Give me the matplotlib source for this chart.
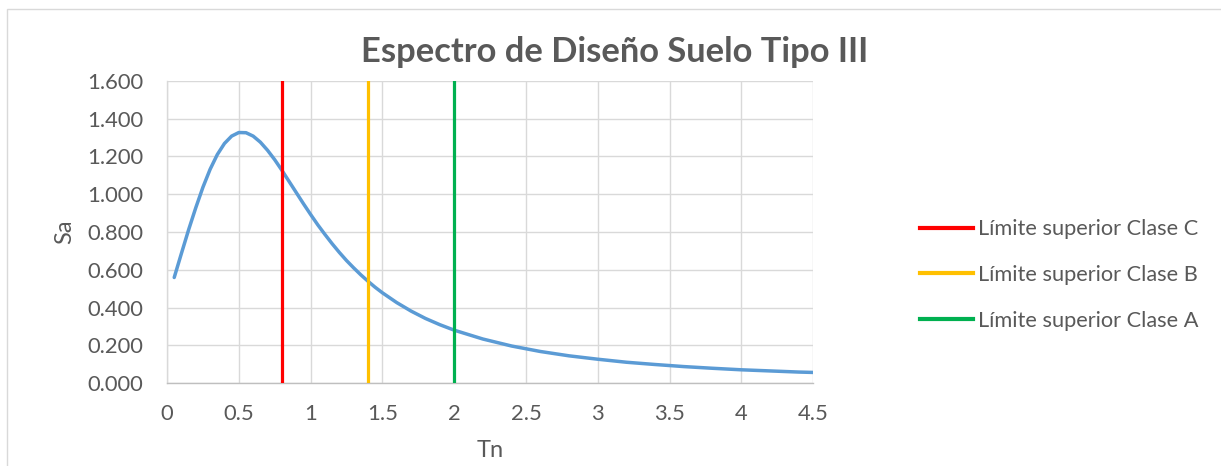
import matplotlib
matplotlib.use("Agg")
import matplotlib.pyplot as plt
from matplotlib.patches import Rectangle
from matplotlib.ticker import FuncFormatter, MultipleLocator

plt.rcParams['font.family'] = ['Lato', 'DejaVu Sans']

# Design spectrum, soil type III: period Tn [s] vs spectral acceleration Sa
periodo = [0.05, 0.10, 0.15, 0.20, 0.25, 0.30, 0.35, 0.40, 0.45, 0.50,
           0.55, 0.60, 0.65, 0.70, 0.75, 0.80, 0.85, 0.90, 0.95, 1.00,
           1.05, 1.10, 1.15, 1.20, 1.25, 1.30, 1.35, 1.40, 1.45, 1.50,
           1.60, 1.70, 1.80, 1.90, 2.00, 2.20, 2.40, 2.60, 2.80, 3.00,
           3.20, 3.40, 3.60, 3.80, 4.00, 4.20, 4.40, 4.50]
sa = [0.559, 0.686, 0.811, 0.928, 1.037, 1.132, 1.210, 1.269, 1.308, 1.327,
      1.326, 1.308, 1.276, 1.233, 1.183, 1.127, 1.068, 1.009, 0.950, 0.893,
      0.838, 0.787, 0.738, 0.692, 0.649, 0.610, 0.573, 0.539, 0.507, 0.478,
      0.426, 0.381, 0.342, 0.309, 0.280, 0.233, 0.196, 0.167, 0.144, 0.126,
      0.110, 0.098, 0.087, 0.078, 0.070, 0.064, 0.058, 0.056]

# Upper period limits of each class
limites = [0.8, 1.4, 2.0]
etiquetas = ["Límite superior Clase C", "Límite superior Clase B", "Límite superior Clase A"]
colores = ["#FF0000", "#FFC000", "#00B050"]

texto = "#595959"
rejilla = "#D9D9D9"

fig = plt.figure(figsize=(12.21, 4.66), dpi=100)
ax = fig.add_axes([0.1368, 0.1781, 0.5291, 0.6481])

# chart frame
fig.patches.append(Rectangle((7 / 1221, -0.1), 1.2, (466 - 9) / 466 + 0.1,
                             transform=fig.transFigure, fill=False,
                             edgecolor=rejilla, linewidth=1.0))

ax.plot(periodo, sa, color="#5B9BD5", linewidth=2.5, solid_capstyle="round", zorder=3)
for x, lab, c in zip(limites, etiquetas, colores):
    ax.axvline(x, color=c, linewidth=2.3, label=lab, zorder=4)

ax.set_xlim(0, 4.5)
ax.set_ylim(0, 1.6)
ax.xaxis.set_major_locator(MultipleLocator(0.5))
ax.yaxis.set_major_locator(MultipleLocator(0.2))
ax.xaxis.set_major_formatter(FuncFormatter(lambda v, p: f"{v:g}"))
ax.yaxis.set_major_formatter(FuncFormatter(lambda v, p: f"{v:.3f}"))
ax.grid(True, color=rejilla, linewidth=1.0)
ax.set_axisbelow(True)
for s in ("top", "right"):
    ax.spines[s].set_visible(False)
ax.spines["left"].set_color(rejilla)
ax.spines["bottom"].set_color("#BFBFBF")
ax.spines["left"].set_linewidth(1.0)
ax.spines["bottom"].set_linewidth(1.0)
ax.tick_params(axis="both", length=0, labelsize=15.8, labelcolor=texto)
ax.tick_params(axis="y", pad=17)
ax.tick_params(axis="x", pad=15)

ax.set_xlabel("Tn", fontsize=17, color=texto, va="center")
ax.set_ylabel("Sa", fontsize=17, color=texto, va="center")
ax.xaxis.set_label_coords(0.5, -0.222)
ax.yaxis.set_label_coords(-0.158, 0.5)

fig.text(615 / 1221, 1 - 52 / 466, "Espectro de Diseño Suelo Tipo III",
         ha="center", va="center", fontsize=24.8, fontweight="bold", color=texto)

leg = ax.legend(loc="center left", bbox_to_anchor=(900 / 1221, 1 - 275 / 466),
                bbox_transform=fig.transFigure, frameon=False, fontsize=15.7,
                handlelength=2.45, handletextpad=0.23, labelspacing=1.17,
                labelcolor=texto)
for h in leg.get_lines():
    h.set_linewidth(3)

fig.savefig("out.png", dpi=100)
